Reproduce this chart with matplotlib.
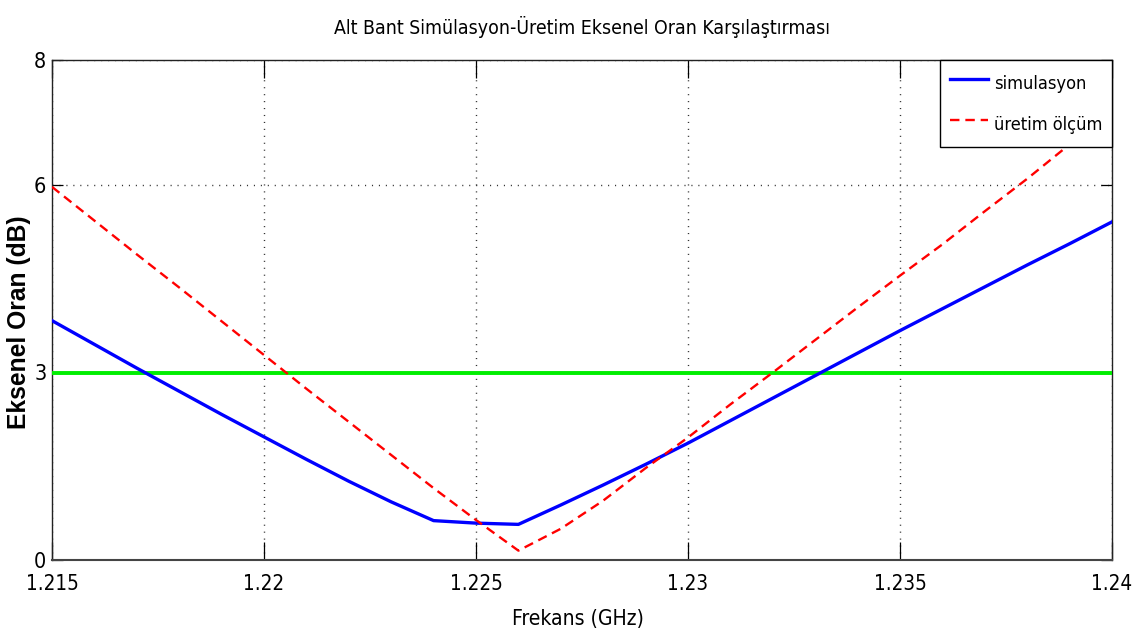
import matplotlib
matplotlib.use("Agg")
import matplotlib.pyplot as plt
from matplotlib import font_manager
from matplotlib.font_manager import FontProperties

# ---- data ----
freq = [1.215, 1.216, 1.217, 1.218, 1.219, 1.220, 1.221, 1.222, 1.223, 1.224,
        1.225, 1.226, 1.227, 1.228, 1.229, 1.230, 1.231, 1.232, 1.233, 1.234,
        1.235, 1.236, 1.237, 1.238, 1.239, 1.240]
simulasyon = [3.83, 3.45, 3.07, 2.70, 2.33, 1.97, 1.61, 1.26, 0.93, 0.63,
              0.59, 0.57, 0.88, 1.20, 1.53, 1.87, 2.23, 2.59, 2.95, 3.31,
              3.67, 4.02, 4.37, 4.72, 5.06, 5.41]
uretim = [5.97, 5.43, 4.89, 4.36, 3.82, 3.28, 2.74, 2.21, 1.68, 1.15,
          0.64, 0.15, 0.50, 0.95, 1.47, 1.96, 2.49, 3.00, 3.52, 4.04,
          4.55, 5.05, 5.58, 6.10, 6.65, 7.22]
esik = 3
xticks = [1.215, 1.22, 1.225, 1.23, 1.235, 1.24]
xticklabels = ["1.215", "1.22", "1.225", "1.23", "1.235", "1.24"]
yticks = [0, 3, 6, 8]
yticklabels = ["0", "3", "6", "8"]
title = "Alt Bant Simülasyon-Üretim Eksenel Oran Karşılaştırması"
xlabel = "Frekans (GHz)"
ylabel = "Eksenel Oran (dB)"
legend_labels = ["simulasyon", "üretim ölçüm"]

# ---- find a condensed / narrow font if one is installed ----
cond_file = None
for f in font_manager.fontManager.ttflist:
    nm = f.name.lower()
    if ("narrow" in nm or "condensed" in nm or str(f.stretch) in ("condensed", "semi-condensed")) \
            and f.style == "normal" and f.weight in (400, "normal", "regular"):
        cond_file = f.fname
        break

def nprop(size):
    if cond_file:
        return FontProperties(fname=cond_file, size=size)
    return FontProperties(family=["Liberation Sans", "DejaVu Sans"], size=size)

def bprop(size):
    return FontProperties(family=["Liberation Sans", "DejaVu Sans"], weight="bold", size=size)

fig = plt.figure(figsize=(11.37, 6.39), dpi=100)
renderer = fig.canvas.get_renderer()

def fit_size(text, target_px, prop_fn, base=20.0):
    t = fig.text(0, 0, text, fontproperties=prop_fn(base))
    w = t.get_window_extent(renderer).width
    t.remove()
    return base * target_px / w

tick_fs = fit_size("1.215", 47, nprop) * 1.12
title_fs = fit_size(title, 482, nprop) * 1.03
xlab_fs = fit_size(xlabel, 122, nprop) * 1.08
leg_fs = fit_size("simulasyon", 92, nprop)
ylab_fs = fit_size(ylabel, 232, bprop) * 0.92

ax = fig.add_axes([52 / 1137, 79 / 639, 1060 / 1137, 500 / 639])

ax.plot(freq, simulasyon, color="#0000ff", lw=2.4, label=legend_labels[0], zorder=4)
ax.plot(freq, uretim, color="#ff0000", lw=1.7, dashes=(4, 2.5), label=legend_labels[1], zorder=5)
ax.axhline(esik, color="#00ee00", lw=2.8, zorder=3)

ax.set_xlim(1.215, 1.24)
ax.set_ylim(0, 8)
ax.set_xticks(xticks)
ax.set_xticklabels(xticklabels, fontproperties=nprop(tick_fs))
ax.set_yticks(yticks)
ax.set_yticklabels(yticklabels, fontproperties=nprop(tick_fs * 1.05))
ax.tick_params(axis="x", direction="in", length=13, width=0.9, top=True, pad=10)
ax.tick_params(axis="y", direction="in", length=8, width=0.9, right=True, pad=4)
ax.grid(True, color="#333333", linestyle=(0, (0.8, 4.2)), lw=1.0)
for s in ax.spines.values():
    s.set_linewidth(1.0)
    s.set_color("#222222")
ax.spines["bottom"].set_linewidth(1.5)
ax.spines["bottom"].set_color("#444444")

ax.text(0.5, 1.066, title, transform=ax.transAxes, ha="center", va="center",
        fontproperties=nprop(title_fs))
ax.set_xlabel(xlabel, fontproperties=nprop(xlab_fs))
ax.xaxis.set_label_coords(0.496, -0.098)
ax.set_ylabel(ylabel, fontproperties=bprop(ylab_fs))
ax.yaxis.set_label_coords(-0.020, 0.476)

leg = ax.legend(loc="upper right", borderaxespad=0.0, prop=nprop(leg_fs), fancybox=False,
                framealpha=1, edgecolor="black", handlelength=2.1, handletextpad=0.3,
                handleheight=1.85, borderpad=0.55, labelspacing=0.8)
leg.get_frame().set_linewidth(1.0)
leg.set_zorder(10)

fig.savefig("out.png", dpi=100)
